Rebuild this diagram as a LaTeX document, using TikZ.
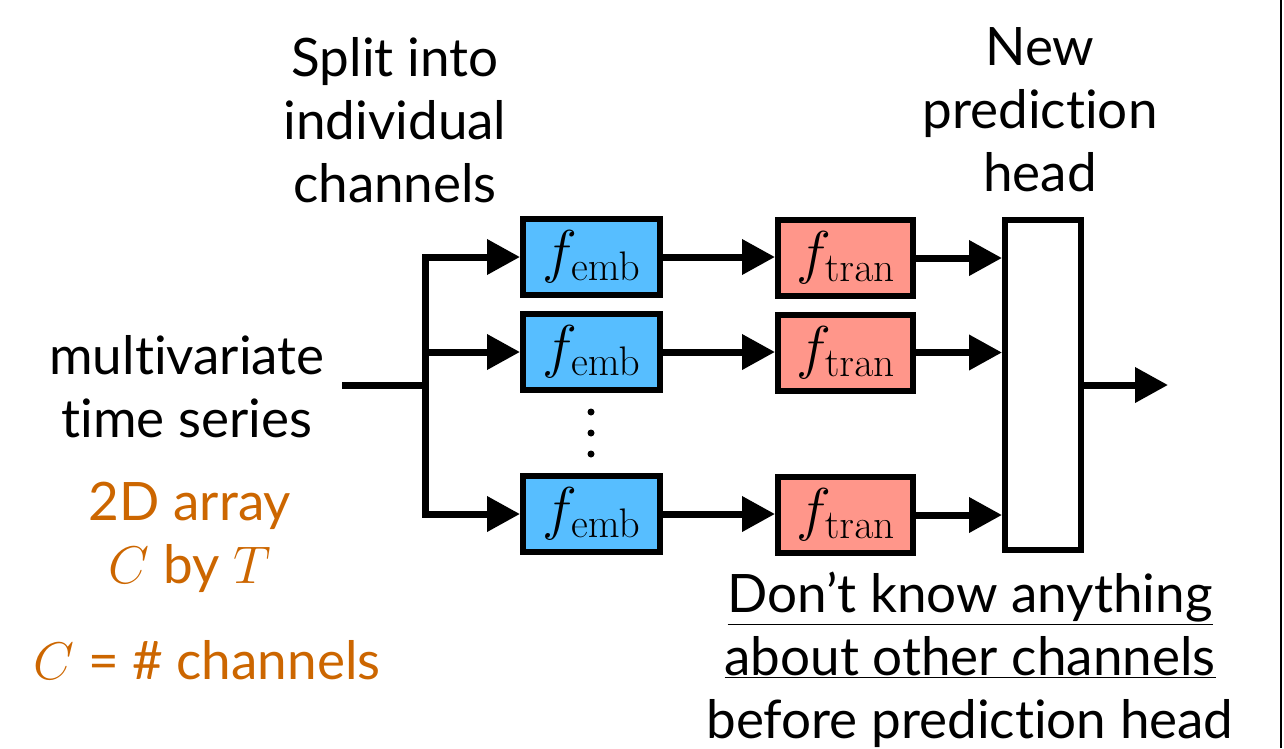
\documentclass[tikz,border=0pt]{standalone}
\usepackage{fix-cm}
\usepackage[no-math]{fontspec}
\setmainfont{Lato}[Ligatures=CommonOff]
\usetikzlibrary{arrows.meta}
\definecolor{embblue}{RGB}{87,190,255}
\definecolor{transalmon}{RGB}{255,150,138}
\definecolor{noteorange}{RGB}{204,102,0}
\tikzset{
  big/.style={font=\fontsize{53}{63}\selectfont, align=center, inner sep=0pt},
  fbox/.style={draw, line width=6pt, minimum height=76pt, inner sep=0pt,
    font=\fontsize{59}{64}\selectfont},
  embbox/.style={fbox, fill=embblue, minimum width=137pt},
  tranbox/.style={fbox, fill=transalmon, minimum width=135pt},
  wire/.style={line width=7pt, line join=miter},
  arr/.style={wire, -{Triangle[length=33pt,width=34pt]}},
  dot/.style={circle, fill, inner sep=0pt, minimum size=7pt},
}
\begin{document}
\begin{tikzpicture}[x=1pt,y=-1pt]
\useasboundingbox (0,0) rectangle (1284,748);
\draw[line width=2pt] (1281,0) -- (1281,748);

% labels
\node[big] (split) at (395,120) {Split into\\individual\\channels};
\node[big] (newhead) at (1040,110) {New\\prediction\\head};
\node[big] (mts) at (187,387) {multivariate\\time series};
\node[big, text=noteorange] (arr2d) at (190,537) {2D array\\$C$ by $T$};
\node[big, text=noteorange] (cdef) at (207,660) {$C$ = \# channels};
\node[big] (note) at (970,660) {\underline{Don’t know anything}\\\underline{about other channels}\\before prediction head};

% per-channel blocks
\node[embbox] (e1) at (591.5,257) {$f_{\mathrm{emb}}$};
\node[embbox] (e2) at (591.5,352) {$f_{\mathrm{emb}}$};
\node[embbox] (e3) at (591.5,514) {$f_{\mathrm{emb}}$};
\node[tranbox] (t1) at (845.5,258) {$f_{\mathrm{tran}}$};
\node[tranbox] (t2) at (845.5,352.5) {$f_{\mathrm{tran}}$};
\node[tranbox] (t3) at (845.5,515) {$f_{\mathrm{tran}}$};

% vertical ellipsis between the channels
\node[dot] (d1) at (591,412) {};
\node[dot] (d2) at (591,433) {};
\node[dot] (d3) at (591,454) {};

% prediction head
\node[draw, line width=6pt, minimum width=76pt, minimum height=330pt, inner sep=0pt] (head) at (1043,385) {};

% input and split
\coordinate (in) at (342,385);
\coordinate (fork) at (425,385);
\draw[wire] (in) -- (fork);
\draw[arr] (fork) |- (e1.west);
\draw[arr] (fork) |- (e3.west);
\draw[arr] (fork |- e2.west) -- (e2.west);

% embedding to transformer
\foreach \i in {1,2,3} {
  \draw[arr] (e\i.east) -- (t\i.west |- e\i.east);
  \draw[arr] (t\i.east) -- (t\i.east -| head.west);
}

% output
\coordinate (out) at (1168,385);
\draw[arr] (head.east) -- (out);
\end{tikzpicture}
\end{document}
